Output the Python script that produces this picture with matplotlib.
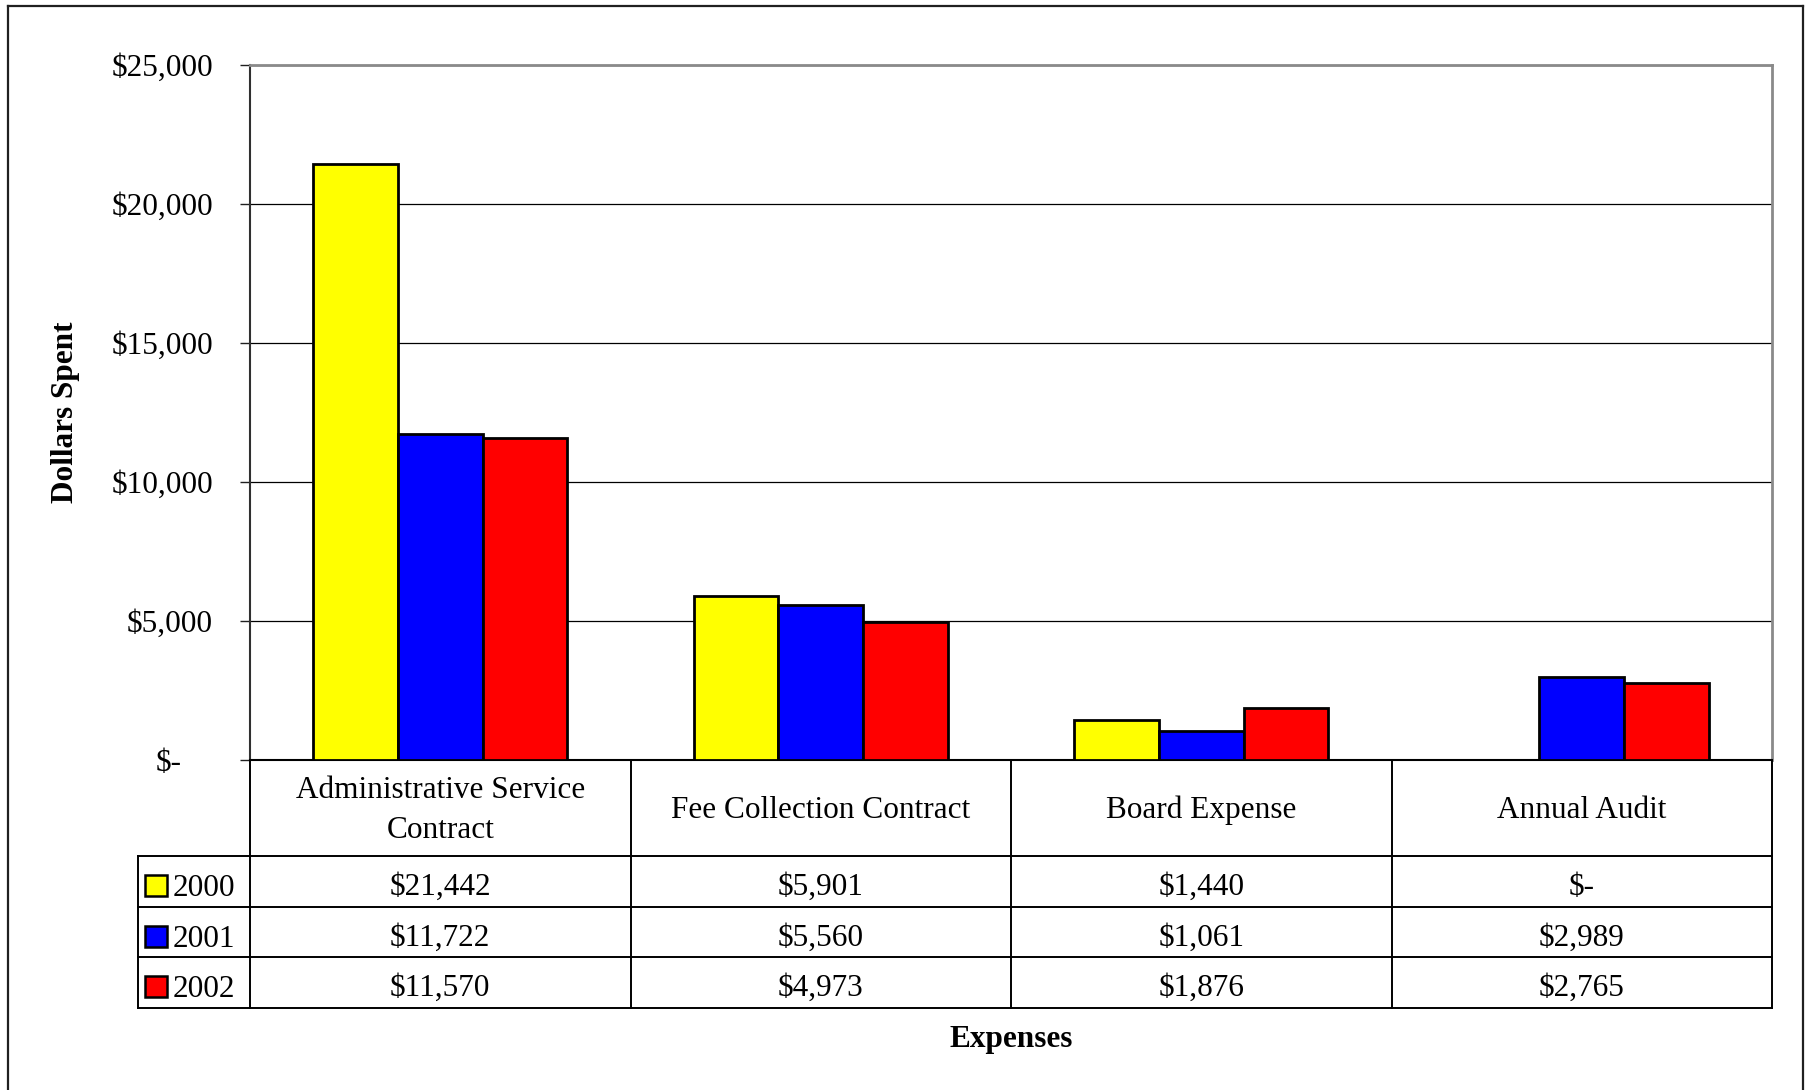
import matplotlib
matplotlib.use("Agg")
import matplotlib.pyplot as plt
import matplotlib.transforms as mtransforms
from matplotlib.lines import Line2D
from matplotlib.patches import Rectangle
import numpy as np

categories = ["Administrative Service\nContract", "Fee Collection Contract",
              "Board Expense", "Annual Audit"]
years = ["2000", "2001", "2002"]
values_2000 = [21442, 5901, 1440, 0]
values_2001 = [11722, 5560, 1061, 2989]
values_2002 = [11570, 4973, 1876, 2765]
series = [values_2000, values_2001, values_2002]
colors = ["#FFFF00", "#0000FF", "#FF0000"]
yticks = [0, 5000, 10000, 15000, 20000, 25000]
ytick_labels = ["$-", "$5,000", "$10,000", "$15,000", "$20,000", "$25,000"]
y_title = "Dollars Spent"
x_title = "Expenses"


def money(v):
    return "$-" if v == 0 else "${:,}".format(v)


plt.rcParams['font.family'] = ['Liberation Serif', 'DejaVu Serif']
FS = 22.5

W, H = 1811, 1090
fig = plt.figure(figsize=(W / 100, H / 100), dpi=100)
# pixel transform with origin at top-left
pxT = mtransforms.Affine2D().scale(1 / W, -1 / H).translate(0, 1) + fig.transFigure

# outer border
for xs, ys in [([8, 8], [6, 1095]), ([8, 1803], [6, 6]), ([1803, 1803], [6, 1095])]:
    fig.add_artist(Line2D(xs, ys, transform=pxT, color="#202020", lw=1.6))

left, right, top, bottom = 250, 1772, 65, 760
ax = fig.add_axes([left / W, 1 - bottom / H, (right - left) / W, (bottom - top) / H])

x = np.arange(len(categories))
bw = 2 / 9
for i, (vals, col) in enumerate(zip(series, colors)):
    ax.bar(x + (i - 1) * bw, vals, bw, color=col, edgecolor="black",
           linewidth=2.0, zorder=3)

ax.set_xlim(-0.5, len(categories) - 0.5)
ax.set_ylim(0, 25000)
ax.set_xticks([])
ax.set_yticks(yticks)
ax.set_yticklabels(ytick_labels, fontsize=FS)
ax.tick_params(axis='y', direction='out', length=7.2, width=1.0, pad=19.4,
               color="#202020")
ax.yaxis.grid(True, color="black", lw=0.9)
ax.set_axisbelow(True)
ax.spines['top'].set_color("#8a8a8a")
ax.spines['top'].set_linewidth(2.0)
ax.spines['right'].set_color("#8a8a8a")
ax.spines['right'].set_linewidth(2.0)
ax.spines['left'].set_color("#303030")
ax.spines['left'].set_linewidth(1.5)
ax.spines['bottom'].set_color("black")
ax.spines['bottom'].set_linewidth(1.5)

# shift "$-" label left (accounting format)
lab0 = ax.get_yticklabels()[0]
lab0.set_transform(lab0.get_transform() +
                   mtransforms.ScaledTranslation(-31 / 100, 0, fig.dpi_scale_trans))

# ---- data table ----
bT = mtransforms.blended_transform_factory(ax.transData, pxT)
header_bot = 856
row_tops = [856, 907, 957]
table_bot = 1008
leg_left = 138
tcol = "black"
tlw = 1.4

# vertical column lines
for b in np.arange(len(categories) + 1) - 0.5:
    fig.add_artist(Line2D([b, b], [bottom, table_bot], transform=bT, color=tcol, lw=tlw))
fig.add_artist(Line2D([leg_left, leg_left], [header_bot, table_bot], transform=pxT,
                      color=tcol, lw=tlw))
# horizontal lines
for yy in [header_bot, 907, 957, table_bot]:
    fig.add_artist(Line2D([leg_left, right], [yy, yy], transform=pxT, color=tcol, lw=tlw))

# headers
for i, cat in enumerate(categories):
    fig.text(i, (bottom + header_bot) / 2 + 2.5, cat, transform=bT, ha='center',
             va='center', fontsize=FS, multialignment='center', linespacing=1.47)

# rows
for r, (yr, vals, col) in enumerate(zip(years, series, colors)):
    rt = row_tops[r]
    fig.add_artist(Rectangle((145, rt + 19), 22, 21, transform=pxT, facecolor=col,
                             edgecolor="black", lw=1.8))
    fig.text(173, rt + 40, yr, transform=pxT, ha='left', va='baseline', fontsize=FS)
    for i, v in enumerate(vals):
        fig.text(i, rt + 39, money(v), transform=bT, ha='center', va='baseline',
                 fontsize=FS)

# titles
fig.text(65, (top + bottom) / 2, y_title, transform=pxT, rotation=90, ha='center',
         va='center', fontsize=FS, fontweight='bold')
fig.text((left + right) / 2, 1047, x_title, transform=pxT, ha='center',
         va='baseline', fontsize=FS, fontweight='bold')

fig.savefig("out.png", dpi=100)
